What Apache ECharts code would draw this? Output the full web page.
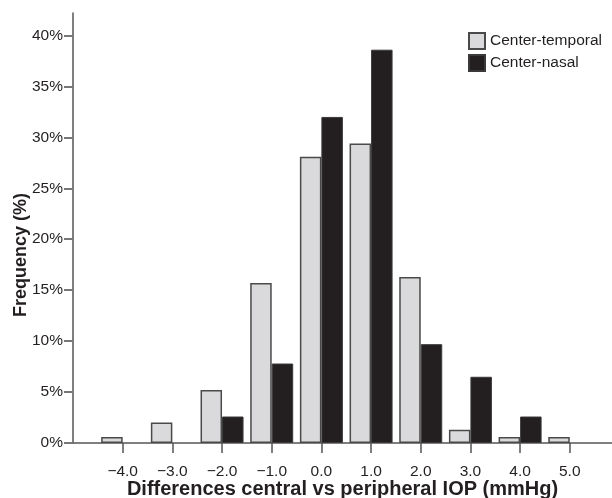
<!DOCTYPE html>
<html>
<head>
<meta charset="utf-8">
<style>
html,body{margin:0;padding:0;background:#fff;}
#chart{width:612px;height:498px;}
</style>
<script src="https://cdn.jsdelivr.net/npm/echarts@6/dist/echarts.min.js"></script>
</head>
<body>
<div id="chart"></div>
<script>
// Category centres (mmHg differences)
var categories = [-4, -3, -2, -1, 0, 1, 2, 3, 4, 5];
var xTickLabels = ['\u22124.0', '\u22123.0', '\u22122.0', '\u22121.0', '0.0', '1.0', '2.0', '3.0', '4.0', '5.0'];
// Frequencies (%)
var centerTemporal = [0.6, 2.0, 5.2, 15.7, 28.1, 29.4, 16.3, 1.3, 0.6, 0.6];
var centerNasal = [0, 0, 2.6, 7.8, 32.0, 38.6, 9.7, 6.5, 2.6, 0];
var yTicks = [0, 5, 10, 15, 20, 25, 30, 35, 40];
var seriesNames = ['Center-temporal', 'Center-nasal'];

function toPairs(vals) {
  return categories.map(function (c, i) {
    return [c, vals[i] === 0 ? null : vals[i]];
  });
}

var font = 'Liberation Sans, Arial, Helvetica, sans-serif';
var chart = echarts.init(document.getElementById('chart'), null, {renderer: 'canvas'});
chart.setOption({
  animation: false,
  backgroundColor: '#ffffff',
  grid: {left: 73, right: 0, top: 13, bottom: 55, containLabel: false, outerBoundsMode: 'none'},
  legend: {
    orient: 'vertical',
    left: 468, top: 32,
    padding: 0,
    itemWidth: 16, itemHeight: 16, itemGap: 4,
    icon: 'rect',
    textStyle: {fontFamily: font, fontSize: 15.5, color: '#231f20'},
    data: seriesNames
  },
  xAxis: {
    type: 'value',
    min: -5, max: 5.85,
    name: 'Differences central vs peripheral IOP (mmHg)',
    nameLocation: 'middle',
    nameMoveOverlap: false,
    nameGap: 36,
    nameTextStyle: {fontFamily: font, fontSize: 20, fontWeight: 'bold', color: '#231f20'},
    axisLine: {show: true, onZero: false, lineStyle: {color: '#555', width: 1.5}},
    axisTick: {show: true, length: 10, lineStyle: {color: '#555', width: 1.5}, customValues: categories},
    axisLabel: {
      customValues: categories,
      margin: 21,
      fontFamily: font, fontSize: 15.5, color: '#231f20',
      formatter: function (v) {
        var i = categories.indexOf(Math.round(v));
        return i >= 0 ? xTickLabels[i] : '';
      }
    },
    splitLine: {show: false}
  },
  yAxis: {
    type: 'value',
    min: 0, max: 42.2,
    name: 'Frequency (%)',
    nameLocation: 'middle',
    nameMoveOverlap: false,
    nameGap: 43,
    nameTextStyle: {fontFamily: font, fontSize: 18, fontWeight: 'bold', color: '#231f20', padding: [0, 54, 0, 0]},
    axisLine: {show: true, onZero: false, lineStyle: {color: '#555', width: 1.5}},
    axisTick: {show: true, length: 9, lineStyle: {color: '#777', width: 2}, customValues: yTicks},
    axisLabel: {
      customValues: yTicks,
      margin: 10,
      fontFamily: font, fontSize: 15.5, color: '#231f20',
      formatter: function (v) { return v + '%'; }
    },
    splitLine: {show: false}
  },
  series: [
    {
      name: seriesNames[0],
      type: 'bar',
      barWidth: 21.5,
      barGap: '0%',
      itemStyle: {color: '#dadadc', borderColor: '#4a4a4a', borderWidth: 1.5},
      data: toPairs(centerTemporal)
    },
    {
      name: seriesNames[1],
      type: 'bar',
      barWidth: 21.5,
      barGap: '0%',
      itemStyle: {color: '#231f20', borderColor: '#3a3a3a', borderWidth: 1},
      data: toPairs(centerNasal)
    }
  ]
});
</script>
</body>
</html>
